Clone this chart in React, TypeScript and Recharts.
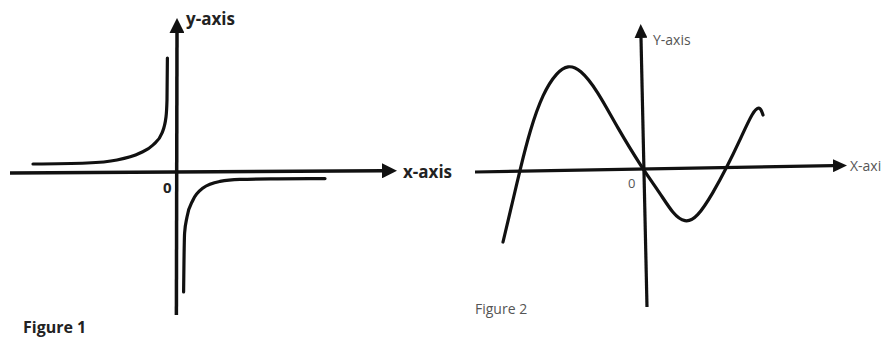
import React from "react";
import { Line, LineChart, XAxis, YAxis } from "recharts";

// Figure 1: two branches of a rectangular hyperbola (units of the grid, origin at 0,0)
const fig1UpperLeft = [
  { x: -7.2, y: 0.4 },
  { x: -4.5, y: 0.45 },
  { x: -3.0, y: 0.6 },
  { x: -1.85, y: 0.95 },
  { x: -1.2, y: 1.35 },
  { x: -0.75, y: 1.95 },
  { x: -0.55, y: 2.75 },
  { x: -0.5, y: 3.6 },
  { x: -0.48, y: 5.7 },
];
const fig1LowerRight = [
  { x: 0.33, y: -6.0 },
  { x: 0.35, y: -4.4 },
  { x: 0.38, y: -3.05 },
  { x: 0.5, y: -2.25 },
  { x: 0.8, y: -1.4 },
  { x: 1.3, y: -0.8 },
  { x: 2.15, y: -0.47 },
  { x: 3.15, y: -0.37 },
  { x: 5.0, y: -0.34 },
  { x: 6.65, y: -0.33 },
  { x: 7.4, y: -0.33 },
];
const fig1XAxis = [
  { x: -8.35, y: -0.05 },
  { x: 10.25, y: 0.06 },
];
const fig1YAxis = [
  { x: -0.03, y: -7.15 },
  { x: 0, y: 6.95 },
];

// Figure 2: a cubic through the origin
const fig2Cubic = [
  { x: -6.95, y: -3.7 },
  { x: -6.45, y: -1.6 },
  { x: -6.1, y: -0.1 },
  { x: -5.6, y: 1.9 },
  { x: -4.95, y: 3.75 },
  { x: -4.25, y: 4.8 },
  { x: -3.7, y: 5.15 },
  { x: -3.1, y: 4.95 },
  { x: -2.25, y: 3.9 },
  { x: -1.25, y: 2.05 },
  { x: 0, y: 0 },
  { x: 0.9, y: -1.25 },
  { x: 1.55, y: -2.3 },
  { x: 2.15, y: -2.75 },
  { x: 2.75, y: -2.5 },
  { x: 3.55, y: -1.25 },
  { x: 4.25, y: 0.05 },
  { x: 4.9, y: 1.4 },
  { x: 5.55, y: 2.85 },
  { x: 5.9, y: 3.1 },
  { x: 6.05, y: 2.65 },
];
const fig2XAxis = [
  { x: -8.35, y: -0.2 },
  { x: 9.55, y: 0.115 },
];
const fig2YAxis = [
  { x: 0.25, y: -6.95 },
  { x: -0.05, y: 6.5 },
];

const INK = "#111";

function Arrow({ id, len, half }: { id: string; len: number; half: number }) {
  return (
    <marker
      id={id}
      markerUnits="userSpaceOnUse"
      markerWidth={len}
      markerHeight={half * 2}
      viewBox={`0 0 ${len} ${half * 2}`}
      refX={0}
      refY={half}
      orient="auto"
    >
      <path d={`M0,0 L${len},${half} L0,${half * 2} Z`} fill={INK} />
    </marker>
  );
}

function Text({
  left,
  cy,
  size,
  bold,
  color,
  children,
}: {
  left: number;
  cy: number;
  size: number;
  bold?: boolean;
  color: string;
  children: React.ReactNode;
}) {
  return (
    <div
      style={{
        position: "absolute",
        left,
        top: cy,
        transform: "translateY(-50%)",
        fontFamily: "'Open Sans', sans-serif",
        fontSize: size,
        fontWeight: bold ? 700 : 400,
        lineHeight: 1,
        color,
        whiteSpace: "nowrap",
      }}
    >
      {children}
    </div>
  );
}

function Curve({
  data,
  width,
  marker,
  type = "monotone",
}: {
  data: { x: number; y: number }[];
  width: number;
  marker?: string;
  type?: "monotone" | "basis" | "linear";
}) {
  return (
    <Line
      data={data}
      dataKey="y"
      type={marker ? "linear" : type}
      stroke={INK}
      strokeWidth={width}
      strokeLinecap={marker ? "butt" : "round"}
      strokeLinejoin="round"
      dot={false}
      activeDot={false}
      markerEnd={marker ? `url(#${marker})` : undefined}
      isAnimationActive={false}
    />
  );
}

export default function App() {
  return (
    <div
      style={{
        position: "absolute",
        left: 0,
        top: 0,
        width: 883,
        height: 339,
        overflow: "hidden",
        background: "#fff",
      }}
    >
      {/* Figure 1 */}
      <div style={{ position: "absolute", left: 0, top: 0 }}>
        <LineChart width={460} height={339} margin={{ top: 0, right: 0, bottom: 0, left: 0 }}>
          <defs>
            <Arrow id="arrow1" len={15} half={7.5} />
          </defs>
          <XAxis type="number" dataKey="x" domain={[-8.85, 14.15]} allowDataOverflow hide />
          <YAxis type="number" domain={[-8.35, 8.6]} allowDataOverflow hide />
          <Curve data={fig1XAxis} width={3.5} marker="arrow1" />
          <Curve data={fig1YAxis} width={3.5} marker="arrow1" />
          <Curve data={fig1UpperLeft} width={3.2} />
          <Curve data={fig1LowerRight} width={3.2} />
        </LineChart>
      </div>
      <Text left={186} cy={18} size={17} bold color="#222">y-axis</Text>
      <Text left={403} cy={171} size={17} bold color="#222">x-axis</Text>
      <Text left={163} cy={187} size={15} bold color="#222">0</Text>
      <Text left={23} cy={327} size={16} bold color="#222">Figure 1</Text>

      {/* Figure 2 */}
      <div style={{ position: "absolute", left: 460, top: 0 }}>
        <LineChart width={423} height={339} margin={{ top: 0, right: 0, bottom: 0, left: 0 }}>
          <defs>
            <Arrow id="arrow2" len={14} half={6.5} />
          </defs>
          <XAxis type="number" dataKey="x" domain={[-9.1, 12.05]} allowDataOverflow hide />
          <YAxis type="number" domain={[-8.55, 8.4]} allowDataOverflow hide />
          <Curve data={fig2XAxis} width={3.2} marker="arrow2" />
          <Curve data={fig2YAxis} width={3.2} marker="arrow2" />
          <Curve data={fig2Cubic} width={3.2} type="basis" />
        </LineChart>
      </div>
      <Text left={653} cy={40} size={14} color="#555">Y-axis</Text>
      <Text left={850} cy={166} size={14} color="#555">X-axi</Text>
      <Text left={628} cy={183} size={13} color="#555">0</Text>
      <Text left={475} cy={309} size={14} color="#555">Figure 2</Text>
    </div>
  );
}
